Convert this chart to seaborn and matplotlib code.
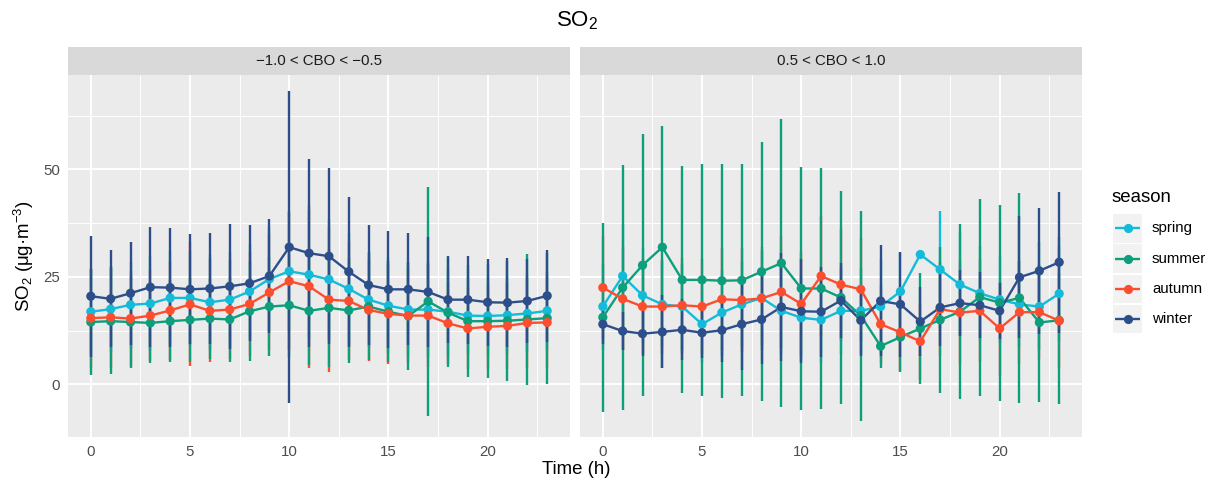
import numpy as np
import pandas as pd
import matplotlib
matplotlib.use("Agg")
import matplotlib.pyplot as plt
import seaborn as sns
from matplotlib.patches import Rectangle

# ---------------------------------------------------------------- data
hours = list(range(24))
seasons = ["spring", "summer", "autumn", "winter"]
panels = ["\u22121.0 < CBO < \u22120.5", "0.5 < CBO < 1.0"]
colors = ["#13BBD8", "#0D9E7B", "#FC4E2F", "#2C4F8B"]

# hourly mean SO2 and standard deviation, -1.0 < CBO < -0.5
spring_mean_neg = [16.9, 17.5, 18.5, 18.8, 20.1, 20.1, 19.1, 19.7, 21.6, 24.5, 26.3, 25.5,
                   24.4, 22.2, 19.7, 18.3, 17.4, 17.4, 16.9, 16.0, 15.9, 16.1, 16.5, 17.1]
summer_mean_neg = [14.5, 14.7, 14.5, 14.3, 14.7, 15.0, 15.3, 15.1, 17.0, 18.1, 18.4, 17.1,
                   17.8, 17.2, 18.1, 16.9, 15.9, 19.3, 16.7, 14.7, 14.7, 14.8, 15.1, 15.4]
autumn_mean_neg = [15.4, 15.6, 15.3, 16.0, 17.2, 18.6, 17.1, 17.4, 18.7, 21.4, 24.0, 22.8,
                   19.7, 19.4, 17.3, 16.4, 16.0, 16.0, 14.2, 13.0, 13.4, 13.6, 14.3, 14.4]
winter_mean_neg = [20.5, 19.9, 21.2, 22.6, 22.5, 22.1, 22.3, 22.8, 23.5, 25.2, 31.9, 30.5,
                   29.8, 26.2, 23.1, 22.1, 22.1, 21.5, 19.7, 19.7, 19.1, 19.0, 19.4, 20.6]
spring_sd_neg = [10, 10, 10, 11, 11, 11, 11, 11, 11, 12, 14, 15,
                 14, 13, 11, 11, 11, 11, 10, 9, 9, 9, 9, 9]
summer_sd_neg = [12.4, 12.3, 10.7, 9.4, 9.5, 9.8, 9.3, 9.8, 11.6, 11.6, 12.0, 12.6,
                 13.7, 12.2, 12.5, 11.7, 12.6, 26.7, 12.6, 13.0, 13.3, 14.0, 15.3, 15.2]
autumn_sd_neg = [11.5, 11.8, 11.0, 10.5, 11.5, 14.4, 12.0, 11.5, 12.0, 13.5, 16.0, 18.9,
                 16.8, 13.8, 11.9, 11.6, 11.0, 12.0, 9.5, 9.5, 9.8, 10.0, 10.5, 10.5]
winter_sd_neg = [14.1, 11.3, 12.0, 13.9, 13.9, 12.8, 12.8, 14.6, 13.5, 13.2, 36.2, 21.9,
                 20.4, 17.4, 13.9, 13.6, 13.0, 12.7, 10.1, 10.2, 10.1, 10.3, 9.8, 10.7]

# hourly mean SO2 and standard deviation, 0.5 < CBO < 1.0
spring_mean_pos = [18.1, 25.2, 20.7, 18.6, 18.1, 14.0, 16.7, 18.6, 20.1, 17.1, 15.5, 15.0,
                   17.1, 17.1, 18.1, 21.6, 30.2, 26.7, 23.2, 21.2, 19.7, 18.6, 18.1, 21.1]
summer_mean_pos = [15.6, 22.5, 27.7, 31.9, 24.3, 24.3, 24.1, 24.2, 26.2, 28.2, 22.3, 22.3,
                   20.2, 16.0, 8.9, 11.0, 13.0, 15.0, 16.9, 20.3, 19.0, 20.1, 14.4, 14.9]
autumn_mean_pos = [22.5, 19.9, 18.1, 18.1, 18.4, 18.1, 19.8, 19.6, 20.0, 21.5, 18.7, 25.2,
                   23.2, 22.1, 14.0, 12.1, 10.0, 17.5, 16.7, 17.1, 13.0, 16.8, 16.8, 14.8]
winter_mean_pos = [14.0, 12.4, 11.8, 12.2, 12.7, 12.0, 12.6, 14.0, 15.1, 18.0, 17.0, 16.9,
                   19.5, 14.9, 19.4, 18.6, 14.6, 17.9, 18.9, 18.4, 17.1, 24.9, 26.4, 28.4]
spring_sd_pos = [10, 12, 11, 10, 10, 9, 10, 10, 11, 10, 10, 10,
                 10, 10, 11, 9, np.nan, 13.5, 12, 11, 10, 10, 10, 11]
summer_sd_pos = [22.0, 28.5, 30.5, 28.1, 26.4, 27.0, 27.2, 27.0, 30.1, 33.5, 28.2, 28.0,
                 24.8, 24.4, 5.2, 8.1, 13.0, 16.9, 20.3, 22.9, 22.8, 24.5, 18.6, 19.4]
autumn_sd_pos = [12, 12, 11, 11, 11, 11, 12, 12, 12, 13, 12, 14,
                 13, 12, 9, 9, 9, 11, 12, 12, 11, 12, 11, 11]
winter_sd_pos = [4.7, 4.5, 5.2, 8.5, 7.1, 5.8, 7.3, 10.7, 10.4, 12.5, 12.1, 10.5,
                 8.7, 8.2, 12.9, 12.2, 8.0, 8.9, 7.6, 7.7, 6.5, 14.2, 14.6, 16.4]

means = {
    panels[0]: [spring_mean_neg, summer_mean_neg, autumn_mean_neg, winter_mean_neg],
    panels[1]: [spring_mean_pos, summer_mean_pos, autumn_mean_pos, winter_mean_pos],
}
sds = {
    panels[0]: [spring_sd_neg, summer_sd_neg, autumn_sd_neg, winter_sd_neg],
    panels[1]: [spring_sd_pos, summer_sd_pos, autumn_sd_pos, winter_sd_pos],
}

rows = []
for p in panels:
    for s, m_arr, sd_arr in zip(seasons, means[p], sds[p]):
        for h, m, sd in zip(hours, m_arr, sd_arr):
            rows.append({"panel": p, "season": s, "hour": h, "mean": m, "sd": sd})
df = pd.DataFrame(rows)
df["lo"] = df["mean"] - df["sd"]
df["hi"] = df["mean"] + df["sd"]

# ---------------------------------------------------------------- style
sns.set_theme(style="darkgrid")
plt.rcParams["font.family"] = ["Liberation Sans", "DejaVu Sans"]
plt.rcParams["mathtext.fontset"] = "custom"
plt.rcParams["mathtext.rm"] = "Liberation Sans"
plt.rcParams["mathtext.it"] = "Liberation Sans:italic"
plt.rcParams["mathtext.default"] = "regular"

palette = dict(zip(seasons, colors))
PANEL_BG = "#EBEBEB"
STRIP_BG = "#D9D9D9"
TICK_TXT = "#4D4D4D"
SMALL = 10.8
MED = 13.4
LW = 1.7

W, H = 1210, 483
fig = plt.figure(figsize=(W / 100, H / 100), dpi=100, facecolor="white")

# shared scales with a 5% expansion of the data range
xlo, xhi = min(hours), max(hours)
xpad = 0.05 * (xhi - xlo)
ylo = np.nanmin(np.concatenate([df["lo"].values, df["mean"].values]))
yhi = np.nanmax(np.concatenate([df["hi"].values, df["mean"].values]))
ypad = 0.05 * (yhi - ylo)

panel_left = [68, 580]
panel_w = 502
panel_top, panel_bot = 75, 437
strip_top = 47

# error bars are layered in row order of the data (alphabetical seasons)
bar_order = sorted(seasons)

for i, p in enumerate(panels):
    ax = fig.add_axes([panel_left[i] / W, 1 - panel_bot / H, panel_w / W, (panel_bot - panel_top) / H])
    ax.set_facecolor(PANEL_BG)
    sub = df[df["panel"] == p]

    # error bars: mean +/- sd
    for s in bar_order:
        d = sub[sub["season"] == s]
        ax.vlines(d["hour"], d["lo"], d["hi"], color=palette[s], lw=LW, zorder=2)

    sns.lineplot(data=sub, x="hour", y="mean", hue="season", hue_order=seasons,
                 palette=palette, estimator=None, sort=True, lw=LW, legend=False,
                 ax=ax, zorder=3)
    sns.scatterplot(data=sub, x="hour", y="mean", hue="season", hue_order=seasons,
                    palette=palette, s=44, linewidth=0, legend=False, ax=ax, zorder=4)

    ax.set_xlim(xlo - xpad, xhi + xpad)
    ax.set_ylim(ylo - ypad, yhi + ypad)
    ax.set_xticks([0, 5, 10, 15, 20])
    ax.set_xticks([2.5, 7.5, 12.5, 17.5, 22.5], minor=True)
    ax.set_yticks([0, 25, 50])
    ax.set_yticks([12.5, 37.5, 62.5], minor=True)
    ax.grid(which="major", color="white", lw=1.4)
    ax.grid(which="minor", color="white", lw=0.7)
    ax.set_axisbelow(True)
    for sp in ax.spines.values():
        sp.set_visible(False)
    ax.set_xlabel("")
    ax.set_ylabel("")
    ax.tick_params(which="major", length=3.6, width=1.0, color="#333333",
                   labelsize=SMALL, labelcolor=TICK_TXT, pad=2.2)
    ax.tick_params(which="minor", length=0)
    if i == 1:
        ax.tick_params(axis="y", which="major", length=0, labelleft=False)

    # facet strip
    sax = fig.add_axes([panel_left[i] / W, 1 - panel_top / H, panel_w / W, (panel_top - strip_top) / H])
    sax.set_facecolor(STRIP_BG)
    sax.set_xticks([])
    sax.set_yticks([])
    sax.grid(False)
    for sp in sax.spines.values():
        sp.set_visible(False)
    sax.text(0.5, 0.5, p, ha="center", va="center", fontsize=SMALL, color="#1A1A1A",
             transform=sax.transAxes)

# titles
fig.text(577 / W, 1 - 21 / H, "SO$_2$", ha="center", va="center", fontsize=16, color="black")
fig.text(576 / W, 1 - 469 / H, "Time (h)", ha="center", va="center", fontsize=MED, color="black")
fig.text(24 / W, 1 - 256 / H, "SO$_2$ (\u03bcg\u00b7m$^{-3}$)", ha="center", va="center",
         rotation=90, fontsize=MED, color="black")

# legend: grey key squares with a line and a point for each season
lax = fig.add_axes([1100 / W, 1 - 345 / H, 110 / W, 165 / H])
lax.set_xlim(1100, 1210)
lax.set_ylim(345, 180)
lax.axis("off")
lax.text(1112, 197, "season", ha="left", va="center", fontsize=MED, color="black")
key_top, key_h, key_step = 214, 28.5, 30.3
for j, s in enumerate(seasons):
    y0 = key_top + j * key_step
    yc = y0 + key_h / 2
    lax.add_patch(Rectangle((1113, y0), 29, key_h, facecolor="#F2F2F2", edgecolor="none"))
    lax.plot([1115, 1140], [yc, yc], color=palette[s], lw=LW, solid_capstyle="butt")
    lax.scatter([1127.5], [yc], s=44, color=palette[s], linewidth=0, zorder=3)
    lax.text(1152, yc, s, ha="left", va="center", fontsize=SMALL, color="black")

fig.savefig("out.png", dpi=100, facecolor="white")
